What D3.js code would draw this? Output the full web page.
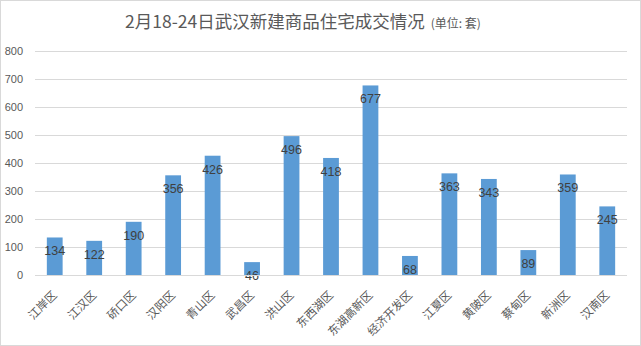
<!DOCTYPE html>
<html>
<head>
<meta charset="utf-8">
<script src="https://cdn.jsdelivr.net/npm/d3@7"></script>
<style>
  html, body { margin: 0; padding: 0; background: #fff; }
  svg { display: block; font-family: "Microsoft YaHei", "Noto Sans CJK SC", sans-serif; }
</style>
</head>
<body>
<svg id="chart" width="641" height="346"></svg>
<script>
// Districts and weekly new-home transactions (units)
const districts = ["江岸区", "江汉区", "硚口区", "汉阳区", "青山区", "武昌区", "洪山区", "东西湖区",
  "东湖高新区", "经济开发区", "江夏区", "黄陂区", "蔡甸区", "新洲区", "汉南区"];
const sales = [134, 122, 190, 356, 426, 46, 496, 418, 677, 68, 363, 343, 89, 359, 245];
const yTicks = [0, 100, 200, 300, 400, 500, 600, 700, 800];

const W = 641, H = 346;
const margin = { left: 35, right: 14, top: 51, bottom: 71 };
const numFont = "'Liberation Sans Narrow', 'Liberation Sans', Arial, sans-serif";
const svg = d3.select("#chart");

// outer frame
svg.append("rect").attr("x", 0.5).attr("y", 0.5).attr("width", W - 1).attr("height", H - 1)
  .attr("fill", "#fff").attr("stroke", "#d9d9d9");

const x = d3.scaleBand().domain(districts)
  .range([margin.left, W - margin.right]).paddingInner(0.6).paddingOuter(0.3);
const y = d3.scaleLinear().domain([0, 800]).range([H - margin.bottom, margin.top]);

// title
const title = svg.append("text").attr("x", 125).attr("y", 28)
  .attr("fill", "#595959");
title.append("tspan").attr("font-size", 17.5).text("2月18-24日武汉新建商品住宅成交情况");
title.append("tspan").attr("font-size", 12).attr("dx", 6).text("(单位: 套)");

// horizontal gridlines + y labels
const yAxis = d3.axisLeft(y).tickValues(yTicks).tickSize(-(W - margin.right - margin.left))
  .tickPadding(12).tickFormat(d3.format("d"));
const gy = svg.append("g").attr("transform", `translate(${margin.left},0)`).call(yAxis);
gy.select(".domain").remove();
gy.selectAll(".tick line").attr("stroke", "#d9d9d9");
gy.selectAll(".tick text").attr("fill", "#595959").attr("font-size", 11)
  .attr("font-family", "'Liberation Sans', Arial, sans-serif");

// bars
svg.append("g").selectAll("rect").data(districts).join("rect")
  .attr("x", d => x(d)).attr("width", x.bandwidth())
  .attr("y", (d, i) => y(sales[i]))
  .attr("height", (d, i) => y(0) - y(sales[i]))
  .attr("fill", "#5b9bd5");

// value labels, inside the bar end
svg.append("g").selectAll("text").data(districts).join("text")
  .attr("x", d => x(d) + x.bandwidth() / 2)
  .attr("y", (d, i) => y(sales[i]) + 18)
  .attr("text-anchor", "middle")
  .attr("font-size", 12.5)
  .attr("font-family", numFont)
  .attr("fill", "#404040")
  .text((d, i) => sales[i]);

// x axis baseline + rotated category labels
const xAxis = d3.axisBottom(x).tickSize(0).tickPadding(0);
const gx = svg.append("g").attr("transform", `translate(0,${y(0)})`).call(xAxis);
gx.select(".domain").attr("stroke", "#d9d9d9")
  .attr("d", `M${margin.left},0.5H${W - margin.right}`);
gx.selectAll(".tick text")
  .attr("fill", "#595959").attr("font-size", 11.5)
  .attr("font-family", "'Noto Sans CJK SC', sans-serif")
  .attr("text-anchor", "end")
  .attr("dy", "0.35em")
  .attr("transform", "translate(0,18) rotate(-45)");
</script>
</body>
</html>
